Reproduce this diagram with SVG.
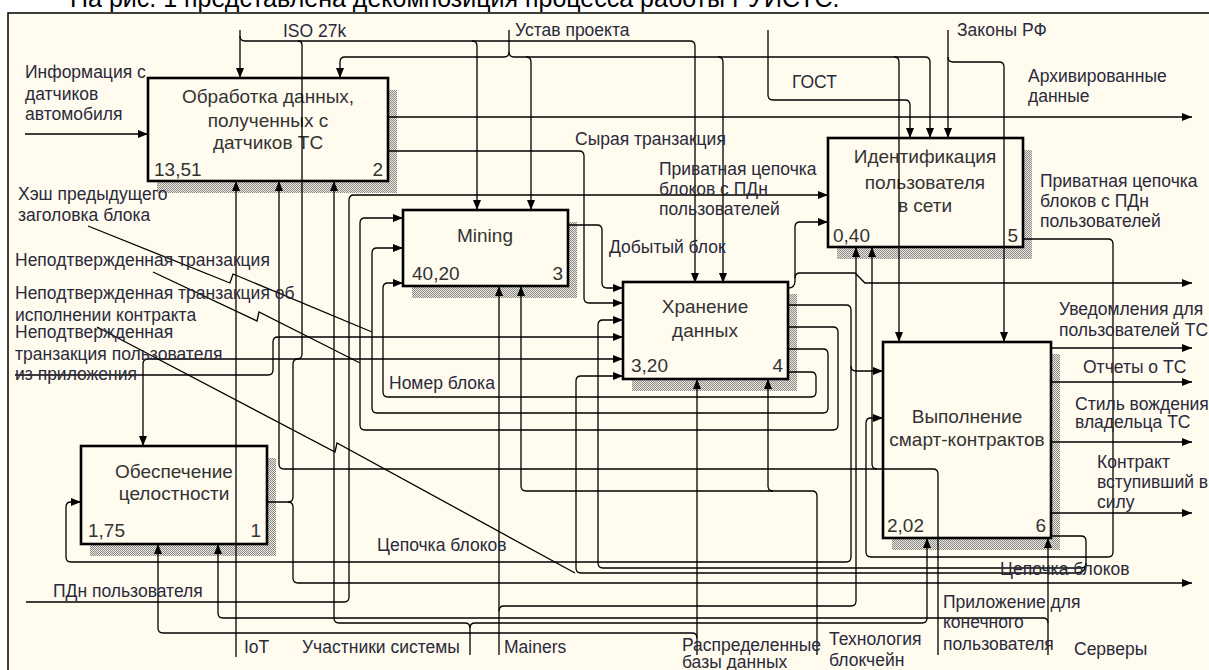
<svg xmlns="http://www.w3.org/2000/svg" width="1209" height="670" viewBox="0 0 1209 670">
<defs>
<marker id="ah" viewBox="0 0 10 8" refX="10" refY="4" markerWidth="10" markerHeight="8" markerUnits="userSpaceOnUse" orient="auto"><path d="M0,0 L10,4 L0,8 z" fill="#000"/></marker>
<pattern id="hatch" width="2" height="2" patternUnits="userSpaceOnUse"><rect width="2" height="2" fill="#ece8dc"/><rect width="1" height="1" fill="#8a8a8a"/><rect x="1" y="1" width="1" height="1" fill="#8a8a8a"/></pattern>
<style>
.sh{fill:url(#hatch)}
.bx{fill:#fffbef;stroke:#000;stroke-width:2.6}
.bt{font-family:"Liberation Sans",Arial,sans-serif;font-size:19px;fill:#333;text-anchor:middle}
.bn{font-family:"Liberation Sans",Arial,sans-serif;font-size:19px;fill:#333}
.be{font-family:"Liberation Sans",Arial,sans-serif;font-size:19px;fill:#333;text-anchor:end}
.c{fill:none;stroke:#000;stroke-width:1.3}
.a{fill:none;stroke:#000;stroke-width:1.3;marker-end:url(#ah)}
.lb{font-family:"Liberation Sans",Arial,sans-serif;font-size:17.5px;fill:#2a2a3a}
.top{font-family:"Liberation Sans",Arial,sans-serif;font-size:25px;fill:#000}
</style>
</defs>
<rect x="0" y="0" width="1209" height="670" fill="#fff"/>
<text class="top" x="70" y="7">На рис. 1 представлена декомпозиция процесса работы РУИСТС.</text>
<rect x="8" y="13" width="1201" height="657" fill="#fffbef"/>
<path d="M8,670 V13 H1209" fill="none" stroke="#000" stroke-width="1.5"/>

<g id="node2">
<rect class="sh" x="157" y="90" width="240" height="103"/>
<rect class="bx" x="148" y="78" width="240" height="103"/>
<text class="bt" x="268" y="103">Обработка данных,</text>
<text class="bt" x="268" y="127">полученных с</text>
<text class="bt" x="268" y="149">датчиков ТС</text>
<text class="bn" x="154" y="176">13,51</text>
<text class="be" x="383" y="176">2</text>
</g>
<g id="node3">
<rect class="sh" x="412" y="222" width="165" height="76"/>
<rect class="bx" x="403" y="210" width="165" height="76"/>
<text class="bt" x="485" y="242">Mining</text>
<text class="bn" x="412" y="280">40,20</text>
<text class="be" x="563" y="280">3</text>
</g>
<g id="node4">
<rect class="sh" x="632" y="294" width="165" height="97"/>
<rect class="bx" x="623" y="282" width="165" height="97"/>
<text class="bt" x="705" y="313">Хранение</text>
<text class="bt" x="705" y="337">данных</text>
<text class="bn" x="631" y="372">3,20</text>
<text class="be" x="783" y="372">4</text>
</g>
<g id="node5">
<rect class="sh" x="837" y="150" width="195" height="109"/>
<rect class="bx" x="828" y="138" width="195" height="109"/>
<text class="bt" x="925" y="163">Идентификация</text>
<text class="bt" x="925" y="189">пользователя</text>
<text class="bt" x="925" y="212">в сети</text>
<text class="bn" x="833" y="242">0,40</text>
<text class="be" x="1018" y="242">5</text>
</g>
<g id="node6">
<rect class="sh" x="892" y="354" width="168" height="196"/>
<rect class="bx" x="883" y="342" width="168" height="196"/>
<text class="bt" x="967" y="423">Выполнение</text>
<text class="bt" x="967" y="446">смарт-контрактов</text>
<text class="bn" x="887" y="532">2,02</text>
<text class="be" x="1046" y="532">6</text>
</g>
<g id="node1">
<rect class="sh" x="90" y="458" width="186" height="98"/>
<rect class="bx" x="81" y="446" width="186" height="98"/>
<text class="bt" x="174" y="478">Обеспечение</text>
<text class="bt" x="174" y="500">целостности</text>
<text class="bn" x="88" y="537">1,75</text>
<text class="be" x="261" y="537">1</text>
</g>

<g id="connectors">
<path class="a" d="M240,30 V78"/>
<path class="a" d="M240,36 Q240,41 245,41 H298 Q302,41 302,45 V354 Q302,359 297,359 H148 Q143,359 143,364 V446"/>
<path class="a" d="M298,41 H472 Q477,41 477,46 V210"/>
<path class="a" d="M472,41 H690 Q695,41 695,46 V283"/>
<path class="a" d="M509,30 V52 Q509,57 504,57 H345 Q340,57 340,62 V78"/>
<path class="a" d="M509,52 Q509,57 514,57 H526 Q531,57 531,62 V210"/>
<path class="a" d="M526,57 H718 Q723,57 723,62 V283"/>
<path class="a" d="M718,57 H894 Q899,57 899,62 V342"/>
<path class="a" d="M894,57 H925 Q930,57 930,62 V138"/>
<path class="a" d="M768,30 V95 Q768,100 773,100 H905 Q910,100 910,105 V138"/>
<path class="a" d="M948,30 V138"/>
<path class="a" d="M948,57 Q948,62 953,62 H999 Q1004,62 1004,67 V342"/>
<path class="a" d="M25,134 H148"/>
<path class="a" d="M388,117 H1192"/>
<path class="a" d="M388,151 H579 Q584,151 584,156 V298 Q584,303 589,303 H623"/>
<path class="a" d="M568,225 H597 Q602,225 602,230 V283 Q602,288 607,288 H623"/>
<path class="a" d="M26,602 H344 Q349,602 349,597 V200 Q349,195 354,195 H828"/>
<path class="a" d="M788,288 Q795,288 795,281 V227 Q795,222 800,222 H828"/>
<path class="a" d="M795,278 Q795,273 800,273 H855 L865,283 H1192"/>
<path class="a" d="M788,305 H846 Q851,305 851,310 V557 Q851,562 846,562 H71 Q66,562 66,557 V507 Q66,502 71,502 H81"/>
<path class="a" d="M851,366 Q851,371 856,371 H883"/>
<path class="a" d="M788,327 H833 Q838,327 838,332 V425 Q838,430 833,430 H365 Q360,430 360,425 V223 Q360,218 365,218 H403"/>
<path class="a" d="M788,349 H823 Q828,349 828,354 V408 Q828,413 823,413 H377 Q372,413 372,408 V253 Q372,248 377,248 H403"/>
<path class="a" d="M788,372 H811 Q816,372 816,377 V392 Q816,397 811,397 H388 Q383,397 383,392 V288 Q383,283 388,283 H403"/>
<path class="a" d="M1023,239 H1108 Q1113,239 1113,244 V552 Q1113,557 1108,557 H871 Q866,557 866,552 V423 Q866,418 871,418 H883"/>
<path class="a" d="M499,655 V286"/>
<path class="a" d="M499,611 Q499,606 504,606 H851 Q856,606 856,601 V247"/>
<path class="a" d="M938,655 V474 Q938,469 933,469 H284 Q279,469 279,464 V181"/>
<path class="a" d="M877,469 Q872,469 872,464 V247"/>
<path class="a" d="M267,502 H288 Q293,502 293,497 V364 Q293,359 298,359 H623"/>
<path class="a" d="M288,502 Q293,502 293,507 V578 Q293,583 298,583 H1192"/>
<path class="a" d="M15,375 H268 Q273,375 273,370 V342 Q273,337 278,337 H623"/>
<path class="c" d="M88,226 L230,283 L233,274 L372,332"/>
<path class="c" d="M153,272 L257,321 L259,312 L360,363"/>
<path class="c" d="M97,327 L335,452 L337,443 L575,573"/>
<path class="a" d="M1051,536 H1081 Q1086,536 1086,541 V563 Q1086,568 1081,568 H603 Q598,568 598,563 V325 Q598,320 603,320 H623"/>
<path class="a" d="M1086,563 Q1086,573 1076,573 H581 Q576,573 576,568 V381 Q576,376 581,376 H623"/>
<path class="a" d="M817,655 V496 Q817,491 812,491 H526 Q521,491 521,486 V286"/>
<path class="a" d="M773,491 Q768,491 768,486 V379"/>
<path class="a" d="M697,655 V379"/>
<path class="a" d="M697,638 Q697,633 692,633 H163 Q158,633 158,628 V544"/>
<path class="a" d="M1048,655 V538"/>
<path class="a" d="M1048,623 Q1048,618 1043,618 H223 Q218,618 218,613 V544"/>
<path class="a" d="M470,655 V628 Q470,623 465,623 H339 Q334,623 334,618 V181"/>
<path class="a" d="M470,628 Q470,623 475,623 H922 Q927,623 927,618 V538"/>
<path class="a" d="M236,657 V181"/>
<path class="a" d="M1051,348 H1192"/>
<path class="a" d="M1051,382 H1192"/>
<path class="a" d="M1051,442 H1192"/>
<path class="a" d="M1051,513 H1192"/>
</g>

<g id="labels">
<text class="lb" x="283" y="37">ISO 27k</text>
<text class="lb" x="515" y="36">Устав проекта</text>
<text class="lb" x="957" y="36">Законы РФ</text>
<text class="lb" x="792" y="88">ГОСТ</text>
<text class="lb" x="1028" y="82">Архивированные</text>
<text class="lb" x="1028" y="102">данные</text>
<text class="lb" x="25" y="78">Информация с</text>
<text class="lb" x="25" y="100">датчиков</text>
<text class="lb" x="25" y="120">автомобиля</text>
<text class="lb" x="575" y="145">Сырая транзакция</text>
<text class="lb" x="659" y="175">Приватная цепочка</text>
<text class="lb" x="659" y="195">блоков с ПДн</text>
<text class="lb" x="659" y="215">пользователей</text>
<text class="lb" x="1040" y="187">Приватная цепочка</text>
<text class="lb" x="1040" y="207">блоков с ПДн</text>
<text class="lb" x="1040" y="227">пользователей</text>
<text class="lb" x="18" y="200">Хэш предыдущего</text>
<text class="lb" x="18" y="221">заголовка блока</text>
<text class="lb" x="15" y="266">Неподтвержденная транзакция</text>
<text class="lb" x="15" y="299">Неподтвержденная транзакция об</text>
<text class="lb" x="15" y="321">исполнении контракта</text>
<text class="lb" x="15" y="338">Неподтвержденная</text>
<text class="lb" x="15" y="360">транзакция пользователя</text>
<text class="lb" x="15" y="380">из приложения</text>
<text class="lb" x="609" y="253">Добытый блок</text>
<text class="lb" x="389" y="389">Номер блока</text>
<text class="lb" x="1059" y="315">Уведомления для</text>
<text class="lb" x="1059" y="336">пользователей ТС</text>
<text class="lb" x="1083" y="373">Отчеты о ТС</text>
<text class="lb" x="1075" y="410">Стиль вождения</text>
<text class="lb" x="1075" y="428">владельца ТС</text>
<text class="lb" x="1097" y="468">Контракт</text>
<text class="lb" x="1097" y="488">вступивший в</text>
<text class="lb" x="1097" y="508">силу</text>
<text class="lb" x="1000" y="575">Цепочка блоков</text>
<text class="lb" x="377" y="551">Цепочка блоков</text>
<text class="lb" x="53" y="597">ПДн пользователя</text>
<text class="lb" x="244" y="653">IoT</text>
<text class="lb" x="302" y="653">Участники системы</text>
<text class="lb" x="504" y="653">Mainers</text>
<text class="lb" x="682" y="651">Распределенные</text>
<text class="lb" x="682" y="668">базы данных</text>
<text class="lb" x="829" y="645">Технология</text>
<text class="lb" x="829" y="666">блокчейн</text>
<text class="lb" x="943" y="608">Приложение для</text>
<text class="lb" x="943" y="628">конечного</text>
<text class="lb" x="943" y="650">пользователя</text>
<text class="lb" x="1074" y="655">Серверы</text>
</g>
</svg>
